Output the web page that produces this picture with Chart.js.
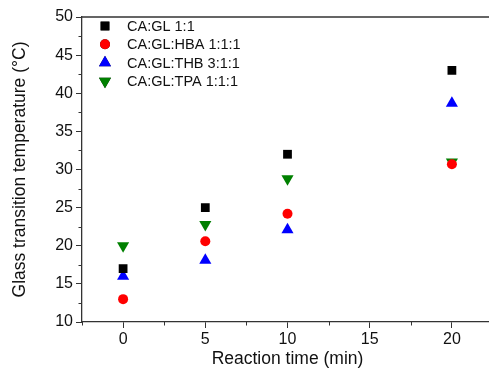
<!DOCTYPE html>
<html><head><meta charset="utf-8">
<script src="https://cdn.jsdelivr.net/npm/chart.js@4"></script>
<style>html,body{margin:0;padding:0;overflow:hidden;background:#fff;width:489px;height:376px}#w{width:500px;height:376px}</style>
</head><body><div id="w"><canvas id="c" width="500" height="376"></canvas></div>
<script>
const times = [0, 5, 10, 20];
const seriesNames = ['CA:GL 1:1', 'CA:GL:HBA 1:1:1', 'CA:GL:THB 3:1:1', 'CA:GL:TPA 1:1:1'];
const caGl = [17, 25, 32, 43];
const caGlHba = [13, 20.6, 24.2, 30.7];
const caGlThb = [16, 18.1, 22.1, 38.7];
const caGlTpa = [20, 22.8, 28.8, 31];
const xTicks = [0, 5, 10, 15, 20];
const yTicks = [10, 15, 20, 25, 30, 35, 40, 45, 50];

const FONT = '"Liberation Sans", Arial, sans-serif';
const styles = [
  {color: '#000000', pointStyle: 'rect', radius: 6.2, rotation: 0},
  {color: '#ff0000', pointStyle: 'circle', radius: 5, rotation: 0},
  {color: '#0000ff', pointStyle: 'triangle', radius: 7, rotation: 0},
  {color: '#008000', pointStyle: 'triangle', radius: 7, rotation: 180}
];
const allSeries = [caGl, caGlHba, caGlThb, caGlTpa];
const datasets = allSeries.map((s, i) => ({
  label: seriesNames[i],
  data: times.map((t, j) => ({x: t, y: s[j]})),
  pointStyle: styles[i].pointStyle,
  pointRadius: styles[i].radius,
  pointRotation: styles[i].rotation,
  backgroundColor: styles[i].color,
  borderColor: styles[i].color,
  borderWidth: 0,
  pointBorderWidth: 0,
  showLine: false
}));

const extras = {
  id: 'extras',
  afterDraw(chart) {
    const ctx = chart.ctx, a = chart.chartArea;
    const xs = chart.scales.x, ys = chart.scales.y;
    ctx.save();
    ctx.strokeStyle = '#333'; ctx.lineWidth = 1.3;
    ctx.beginPath();
    ctx.moveTo(a.left, a.top); ctx.lineTo(a.right, a.top);
    ctx.moveTo(a.right, a.top); ctx.lineTo(a.right, a.bottom);
    ctx.stroke();
    // minor ticks
    ctx.lineWidth = 1;
    ctx.beginPath();
    for (let v = xs.min + 0; v <= xs.max; v += 2.5) {
      if (Math.abs(v % 5) < 1e-6) continue;
      const px = Math.round(xs.getPixelForValue(v)) + 0.5;
      ctx.moveTo(px, a.bottom); ctx.lineTo(px, a.bottom + 3.5);
    }
    for (let v = ys.min; v <= ys.max; v += 2.5) {
      if (Math.abs(v % 5) < 1e-6) continue;
      const py = Math.round(ys.getPixelForValue(v)) + 0.5;
      ctx.moveTo(a.left, py); ctx.lineTo(a.left - 3.5, py);
    }
    ctx.stroke();
    // legend
    ctx.font = '14.5px ' + FONT;
    ctx.fillStyle = '#111';
    ctx.textBaseline = 'middle';
    const rows = [26, 44.3, 62.7, 81.2];
    chart.data.datasets.forEach((d, i) => {
      Chart.helpers.drawPoint(ctx, {pointStyle: d.pointStyle, radius: d.pointRadius, rotation: d.pointRotation, borderWidth: 0}, 105, rows[i]);
      ctx.fillStyle = d.backgroundColor;
      ctx.fill();
      ctx.fillStyle = '#111';
      ctx.fillText(d.label, 127, rows[i] + 1);
    });
    ctx.restore();
  }
};

new Chart(document.getElementById('c'), {
  type: 'scatter',
  data: {datasets},
  options: {
    responsive: false,
    animation: false,
    events: [],
    layout: {padding: {top: 17, right: 4.5, left: 0, bottom: 0}},
    plugins: {legend: {display: false}, tooltip: {enabled: false}},
    scales: {
      x: {
        type: 'linear', min: -2.5, max: 22.5,
        afterBuildTicks: s => { s.ticks = xTicks.map(v => ({value: v})); },
        afterFit: s => { s.height = 54; },
        border: {color: '#333', width: 1.3},
        grid: {drawOnChartArea: false, drawTicks: true, tickLength: 6, color: '#333'},
        ticks: {color: '#111', font: {family: FONT, size: 16}, padding: 2},
        title: {display: true, text: 'Reaction time (min)', color: '#111', font: {family: FONT, size: 17.5}, padding: {top: 0, bottom: 6}}
      },
      y: {
        type: 'linear', min: 10, max: 50,
        afterBuildTicks: s => { s.ticks = yTicks.map(v => ({value: v})); },
        afterFit: s => { s.width = 82; },
        border: {color: '#333', width: 1.3},
        grid: {drawOnChartArea: false, drawTicks: true, tickLength: 6, color: '#333'},
        ticks: {color: '#111', font: {family: FONT, size: 16}, padding: 3},
        title: {display: true, text: 'Glass transition temperature (°C)', color: '#111', font: {family: FONT, size: 17.5}, padding: {top: 10, bottom: 0}}
      }
    }
  },
  plugins: [extras]
});
</script>
</body></html>
